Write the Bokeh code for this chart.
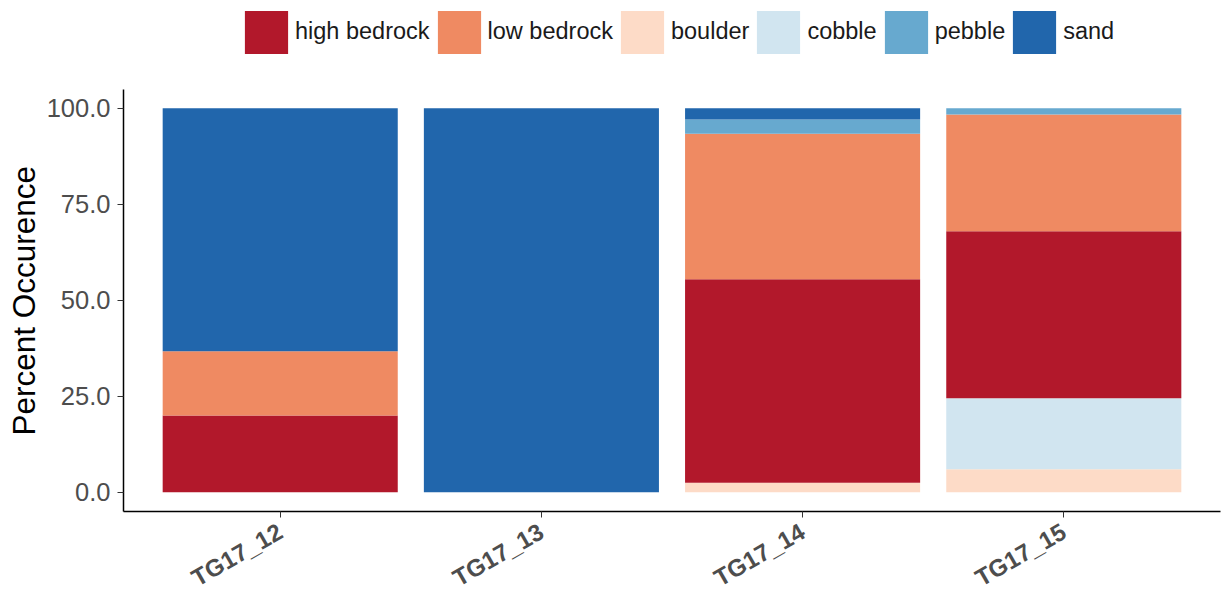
import math
from bokeh.plotting import figure
from bokeh.models import FactorRange, Range1d, Legend, LegendItem, FixedTicker, NumeralTickFormatter, ColumnDataSource, Title
from bokeh.embed import file_html
from bokeh.resources import INLINE

sites = ["TG17_12", "TG17_13", "TG17_14", "TG17_15"]
boulder = [0.0, 0.0, 2.5, 6.0]
cobble = [0.0, 0.0, 0.0, 18.5]
high_bedrock = [20.0, 0.0, 53.0, 43.5]
low_bedrock = [16.7, 0.0, 37.9, 30.4]
pebble = [0.0, 0.0, 3.7, 1.6]
sand = [63.3, 100.0, 2.9, 0.0]

stack_order = ["boulder", "cobble", "high bedrock", "low bedrock", "pebble", "sand"]
legend_order = ["high bedrock", "low bedrock", "boulder", "cobble", "pebble", "sand"]
colors = {
    "high bedrock": "#B2182B",
    "low bedrock": "#EF8A62",
    "boulder": "#FDDBC7",
    "cobble": "#D1E5F0",
    "pebble": "#67A9CF",
    "sand": "#2166AC",
}

source = ColumnDataSource(dict(
    site=sites,
    boulder=boulder,
    cobble=cobble,
    high_bedrock=high_bedrock,
    low_bedrock=low_bedrock,
    pebble=pebble,
    sand=sand,
))
keys = {"boulder": "boulder", "cobble": "cobble", "high bedrock": "high_bedrock",
        "low bedrock": "low_bedrock", "pebble": "pebble", "sand": "sand"}

# The frame extends to the top of the canvas so the legend (drawn inside the frame)
# is not clipped; the y axis itself is bounded to the data range -5..105.
FRAME_H = 511
px_per_unit = 3.84
y_end = -5 + FRAME_H / px_per_unit

p = figure(
    frame_width=1097, frame_height=FRAME_H,
    x_range=FactorRange(*sites, range_padding=0.1, range_padding_units="absolute"),
    y_range=Range1d(-5, y_end),
    output_backend="svg", toolbar_location=None,
    min_border_left=123, min_border_right=3, min_border_top=0, min_border_bottom=10,
)

renderers = p.vbar_stack(
    [keys[k] for k in stack_order], x="site", width=0.9, source=source,
    color=[colors[k] for k in stack_order], line_color=None,
)
rmap = dict(zip(stack_order, renderers))

legend = Legend(
    items=[LegendItem(label=k, renderers=[rmap[k]]) for k in legend_order],
    orientation="horizontal", location=(116, FRAME_H - 58.6),
    label_text_font="Liberation Sans", label_text_font_size="23.5px",
    label_text_color="#1A1A1A",
    glyph_width=54, glyph_height=54, label_standoff=2, spacing=2,
    padding=0, margin=0, border_line_color=None, background_fill_alpha=0,
)
p.add_layout(legend, "center")

p.xgrid.visible = False
p.ygrid.visible = False
p.outline_line_color = None

p.yaxis.bounds = (-5, 105)
p.yaxis.ticker = FixedTicker(ticks=[0, 25, 50, 75, 100])
p.yaxis.formatter = NumeralTickFormatter(format="0.0")
p.yaxis.major_label_text_font = "Liberation Sans"
p.yaxis.major_label_text_font_size = "25.5px"
p.yaxis.major_label_text_color = "#4D4D4D"
p.yaxis.major_label_standoff = 7
p.yaxis.minor_tick_line_color = None

ytitle = Title(text="Percent Occurence", align="left", offset=76,
               text_font="Liberation Sans", text_font_size="31.5px",
               text_font_style="normal", text_color="black", standoff=4)
p.add_layout(ytitle, "left")

p.xaxis.major_label_orientation = math.pi / 6
p.xaxis.major_label_text_font = "Liberation Sans"
p.xaxis.major_label_text_font_size = "24px"
p.xaxis.major_label_text_font_style = "bold"
p.xaxis.major_label_text_color = "#4D4D4D"
p.xaxis.major_label_standoff = 12

for ax in (p.xaxis, p.yaxis):
    ax.axis_line_color = "black"
    ax.axis_line_width = 1.5
    ax.major_tick_line_color = "#333333"
    ax.major_tick_line_width = 1
    ax.major_tick_out = 6
    ax.major_tick_in = 0

open("out.html", "w").write(file_html(p, INLINE))
